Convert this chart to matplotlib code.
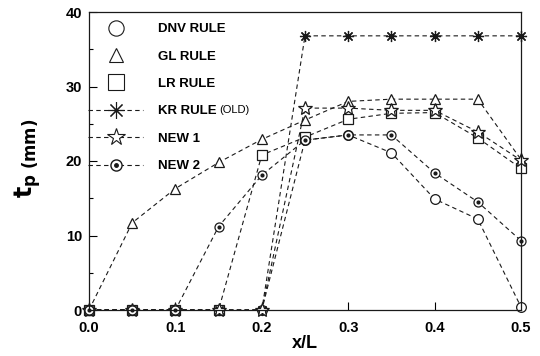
import matplotlib
matplotlib.use('Agg')
import matplotlib.pyplot as plt
from matplotlib.lines import Line2D
from matplotlib.legend_handler import HandlerTuple

plt.rcParams['font.family'] = ['Liberation Sans', 'DejaVu Sans']
plt.rcParams['font.weight'] = 'bold'

# ── data ──
x = [0.0, 0.05, 0.1, 0.15, 0.2, 0.25, 0.3, 0.35, 0.4, 0.45, 0.5]
dnv = [0, 0, 0, 0, 0, 22.8, 23.5, 21.1, 14.9, 12.2, 0.4]
gl = [0, 11.7, 16.3, 19.8, 22.9, 25.5, 28.0, 28.3, 28.3, 28.3, 20.2]
lr = [0, 0, 0, 0, 20.8, 23.2, 25.6, 26.4, 26.5, 23.1, 19.0]
kr = [0, 0, 0, 0, 0, 36.8, 36.8, 36.8, 36.8, 36.8, 36.8]
new1 = [0, 0, 0, 0, 0, 27.1, 27.1, 26.8, 26.8, 23.9, 20.1]
new2 = [0, 0, 0, 11.2, 18.1, 22.8, 23.5, 23.5, 18.4, 14.5, 9.3]

INK = '#1a1a1a'
LS = (0, (4, 3))

fig = plt.figure(figsize=(5.4, 3.56), dpi=100)
ax = fig.add_axes([89/540, 46/356, 432/540, 298/356])

common = dict(color=INK, linewidth=0.8, linestyle=LS, markerfacecolor='white',
              markeredgecolor=INK, markeredgewidth=0.9, clip_on=False)
l_dnv, = ax.plot(x, dnv, marker='o', markersize=7, **common)
l_gl, = ax.plot(x, gl, marker='^', markersize=7, **common)
l_lr, = ax.plot(x, lr, marker='s', markersize=7, **common)
l_kr, = ax.plot(x, kr, marker=(8, 2, 0), markersize=8, **common)
l_n1, = ax.plot(x, new1, marker='*', markersize=10, **common)
l_n2, = ax.plot(x, new2, marker='o', markersize=6.5, **common)
ax.plot(x, new2, linestyle='none', marker='o', markersize=2, color=INK, clip_on=False)

ax.set_xlim(0, 0.5)
ax.set_ylim(0, 40)
ax.set_xticks([0.0, 0.1, 0.2, 0.3, 0.4, 0.5])
ax.set_xticklabels(['0.0', '0.1', '0.2', '0.3', '0.4', '0.5'])
ax.set_yticks([0, 10, 20, 30, 40])
ax.set_yticks([5, 15, 25, 35], minor=True)
ax.tick_params(axis='both', which='major', direction='in', length=6, labelsize=10.5,
               top=False, right=False, width=0.8, pad=5)
ax.tick_params(axis='x', which='major', pad=8)
ax.tick_params(axis='y', which='minor', direction='in', length=3, width=0.8)
for s in ax.spines.values():
    s.set_linewidth(0.9)
    s.set_color(INK)

fig.text(305/540, 1 - 344/356, 'x/L', fontsize=13, fontweight='bold',
         ha='center', va='center')
fig.text(28/540, 1 - 158/356, r'$\mathbf{t}_{\mathbf{p}\ \mathrm{(mm)}}$', rotation=90,
         fontsize=17, ha='center', va='center')

# legend: rules without lines, new ones dashed
h_dnv = Line2D([], [], linestyle='none', marker='o', markersize=11,
               markerfacecolor='white', markeredgecolor=INK, markeredgewidth=0.8)
h_gl = Line2D([], [], linestyle='none', marker='^', markersize=10,
              markerfacecolor='white', markeredgecolor=INK, markeredgewidth=0.8)
h_lr = Line2D([], [], linestyle='none', marker='s', markersize=11,
              markerfacecolor='white', markeredgecolor=INK, markeredgewidth=0.8)
h_kr = Line2D([], [], color=INK, linewidth=0.8, linestyle=LS, marker=(8, 2, 0),
              markersize=12, markeredgewidth=0.8)
h_n1 = Line2D([], [], color=INK, linewidth=0.8, linestyle=LS, marker='*', markersize=13,
              markerfacecolor='white', markeredgecolor=INK, markeredgewidth=0.8)
h_n2a = Line2D([], [], color=INK, linewidth=0.8, linestyle=LS, marker='o', markersize=8,
               markerfacecolor='white', markeredgecolor=INK, markeredgewidth=1.0)
h_n2b = Line2D([], [], linestyle='none', marker='o', markersize=2.5, color=INK)

ax.legend([h_dnv, h_gl, h_lr, h_kr, h_n1, (h_n2a, h_n2b)],
          ['DNV RULE', 'GL RULE', 'LR RULE', 'KR RULE', 'NEW 1', 'NEW 2'],
          handler_map={tuple: HandlerTuple(ndivide=1, pad=0)},
          loc='upper left', bbox_to_anchor=(88/540, 1 - 23/356),
          bbox_transform=fig.transFigure, frameon=False,
          handlelength=4.2, handletextpad=1.1, labelspacing=1.15,
          borderpad=0, borderaxespad=0, prop={'weight': 'bold', 'size': 9.5})
fig.text(219/540, 1 - 110/356, '(OLD)', fontsize=8, fontweight='normal',
         ha='left', va='center')

fig.savefig('out.png', dpi=100, facecolor='white')
